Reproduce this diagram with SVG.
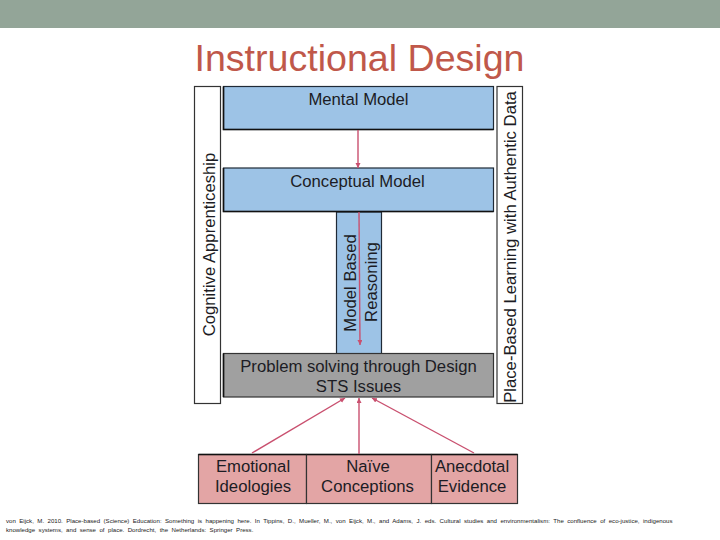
<svg xmlns="http://www.w3.org/2000/svg" width="720" height="540" viewBox="0 0 720 540">
<style>
text{font-family:"Liberation Sans",Arial,sans-serif;fill:#1c1c24;font-size:16.7px;text-anchor:middle}
.blue{fill:#9dc3e6;stroke:#1f2a36;stroke-width:1.2}
.white{fill:#fff;stroke:#333;stroke-width:1.2}
.gray{fill:#a0a0a0;stroke:#333;stroke-width:1.2}
.pink{fill:#e3a5a5;stroke:#333;stroke-width:1.2}
.edge{stroke:#111;stroke-width:1.6;fill:none}
.conn{stroke:#c9506f;stroke-width:1.4;fill:none;marker-end:url(#arr)}
.ref{font-size:6.1px;text-anchor:start;fill:#222;word-spacing:1.77px}
</style>
<defs><marker id="arr" markerUnits="userSpaceOnUse" markerWidth="6" markerHeight="6" refX="5" refY="2.500" orient="auto"><path d="M0 0L5 2.500L0 5Z" fill="#c9506f"/></marker></defs>
<rect width="720" height="540" fill="#fff"/>
<rect id="banner" width="720" height="28" fill="#93a598"/>
<text id="title" x="359.500" y="71" style="font-size:37.6px;fill:#c0584a">Instructional Design</text>
<g id="cognitive"><rect class="white" x="194.500" y="86.500" width="26" height="317"/><text transform="translate(215 244.500) rotate(-90)">Cognitive Apprenticeship</text></g>
<g id="place"><rect class="white" x="497" y="86.500" width="25.500" height="317"/><text transform="translate(516 247) rotate(-90)">Place-Based Learning with Authentic Data</text></g>
<g id="mbr"><rect class="blue" x="336.500" y="212" width="45" height="142"/><text transform="translate(356 283) rotate(-90)">Model Based</text><text transform="translate(377 282) rotate(-90)">Reasoning</text></g>
<g id="mental"><rect class="blue" x="223.500" y="86.500" width="270" height="43"/><path class="edge" d="M223.500 86.500V129.500H493.500"/><text x="358.500" y="105">Mental Model</text></g>
<g id="conceptual"><rect class="blue" x="223.500" y="168" width="270" height="43.500"/><path class="edge" d="M223.500 168V211.500H493.500"/><text x="357.500" y="187">Conceptual Model</text></g>
<g id="problem"><rect class="gray" x="223.500" y="353.500" width="270" height="43.500"/><path class="edge" d="M223.500 353.500V397"/><text x="358.500" y="372">Problem solving through Design</text><text x="358.500" y="392">STS Issues</text></g>
<g id="emotional"><rect class="pink" x="198.500" y="454.500" width="108" height="49"/><path class="edge" d="M198.500 454.500H306.500"/><text x="253" y="472">Emotional</text><text x="253" y="492">Ideologies</text></g>
<g id="naive"><rect class="pink" x="306.500" y="454.500" width="125" height="49"/><path class="edge" d="M306.500 454.500H431.500"/><text x="368" y="472">Naïve</text><text x="367.500" y="492">Conceptions</text></g>
<g id="anecdotal"><rect class="pink" x="431.500" y="454.500" width="86" height="49"/><path class="edge" d="M431.500 454.500H517.500"/><text x="472" y="472">Anecdotal</text><text x="472" y="492">Evidence</text></g>
<g id="connectors">
<line class="conn" x1="358" y1="130" x2="358" y2="168"/>
<line class="conn" x1="359" y1="212" x2="360" y2="345"/>
<line class="conn" x1="252" y1="453" x2="345" y2="398"/>
<line class="conn" x1="359" y1="454" x2="359" y2="398"/>
<line class="conn" x1="474" y1="453" x2="372" y2="398"/>
</g>
<g id="reference"><text class="ref" x="6" y="523">von Eijck, M. 2010. Place-based (Science) Education: Something is happening here. In Tippins, D., Mueller, M., von Eijck, M., and Adams, J. eds. Cultural studies and environmentalism: The confluence of eco-justice, indigenous</text><text class="ref" x="6" y="532">knowledge systems, and sense of place. Dordrecht, the Netherlands: Springer Press.</text></g>
</svg>
